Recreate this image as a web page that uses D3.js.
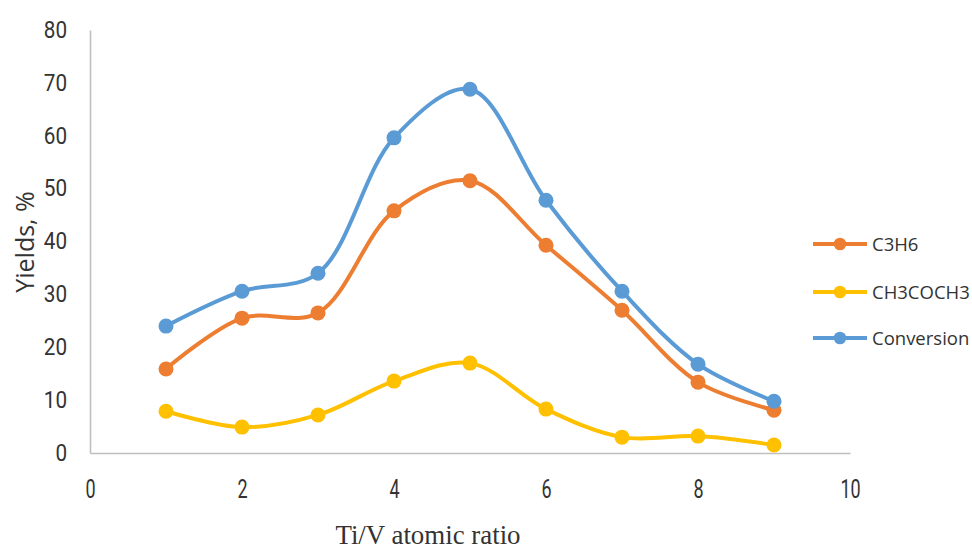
<!DOCTYPE html>
<html>
<head>
<meta charset="utf-8">
<script src="https://cdn.jsdelivr.net/npm/d3@7"></script>
<style>
  body { margin: 0; background: #fff; }
  svg { display: block; }
</style>
</head>
<body>
<svg id="chart" width="972" height="551"></svg>
<script>
// values
const ratios = [1, 2, 3, 4, 5, 6, 7, 8, 9];
const c3h6 = [15.9, 25.5, 26.5, 45.8, 51.5, 39.3, 27.0, 13.4, 8.1];
const ch3coch3 = [7.9, 4.9, 7.2, 13.6, 17.0, 8.3, 3.0, 3.2, 1.5];
const conversion = [24.0, 30.6, 34.0, 59.6, 68.8, 47.8, 30.6, 16.8, 9.8];
const xTicks = [0, 2, 4, 6, 8, 10];
const yTicks = [0, 10, 20, 30, 40, 50, 60, 70, 80];

const seriesNames = ["C3H6", "CH3COCH3", "Conversion"];
const seriesValues = [c3h6, ch3coch3, conversion];
const colors = ["#ED7D31", "#FFC000", "#5B9BD5"];

const svg = d3.select("#chart");

const x = d3.scaleLinear().domain([0, 10]).range([90, 850]);
const y = d3.scaleLinear().domain([0, 80]).range([453, 30]);

// axes
const xAxis = svg.append("g")
  .attr("transform", `translate(0,${y(0)})`)
  .call(d3.axisBottom(x).tickValues(xTicks).tickSize(0).tickPadding(27));

const yAxis = svg.append("g")
  .attr("transform", `translate(${x(0)},0)`)
  .call(d3.axisLeft(y).tickValues(yTicks).tickSize(0).tickPadding(23));

[xAxis, yAxis].forEach(a => {
  a.select(".domain").attr("stroke", "#BFBFBF").attr("stroke-width", 1.6);
});

xAxis.selectAll("text")
  .attr("font-family", "Roboto, sans-serif")
  .attr("font-size", 25)
  .attr("fill", "#333")
  .attr("transform", "scale(0.72,1)");

yAxis.selectAll("text")
  .attr("font-family", "Roboto, sans-serif")
  .attr("font-size", 23)
  .attr("fill", "#333")
  .attr("transform", "scale(0.9,1)");
// keep right edge of y labels in place after scaling
yAxis.selectAll(".tick text").attr("x", -23 / 0.9);

// smoothed lines (Excel style)
const line = d3.line()
  .x((d, i) => x(ratios[i]))
  .y(d => y(d))
  .curve(d3.curveCatmullRom.alpha(0.5));

seriesValues.forEach((vals, k) => {
  svg.append("path")
    .datum(vals)
    .attr("fill", "none")
    .attr("stroke", colors[k])
    .attr("stroke-width", 4)
    .attr("stroke-linejoin", "round")
    .attr("d", line);

  svg.append("g")
    .selectAll("circle")
    .data(vals)
    .join("circle")
    .attr("cx", (d, i) => x(ratios[i]))
    .attr("cy", d => y(d))
    .attr("r", 7.5)
    .attr("fill", colors[k]);
});

// legend
const legendY = [244, 292, 338];
const legend = svg.append("g");
seriesNames.forEach((name, k) => {
  legend.append("line")
    .attr("x1", 813).attr("x2", 867)
    .attr("y1", legendY[k]).attr("y2", legendY[k])
    .attr("stroke", colors[k])
    .attr("stroke-width", 4);
  legend.append("circle")
    .attr("cx", 840).attr("cy", legendY[k])
    .attr("r", 6.3)
    .attr("fill", colors[k]);
  legend.append("text")
    .attr("x", 872)
    .attr("y", legendY[k])
    .attr("dy", "0.36em")
    .attr("font-family", "'Open Sans', sans-serif")
    .attr("font-size", 18.5)
    .attr("fill", "#333")
    .text(name);
});

// axis titles
svg.append("text")
  .attr("transform", "translate(34,242) rotate(-90)")
  .attr("text-anchor", "middle")
  .attr("font-family", "'Open Sans', sans-serif")
  .attr("font-size", 25)
  .attr("fill", "#333")
  .text("Yields, %");

svg.append("text")
  .attr("x", 428)
  .attr("y", 544)
  .attr("text-anchor", "middle")
  .attr("font-family", "'Liberation Serif', serif")
  .attr("font-size", 28)
  .attr("fill", "#333")
  .attr("transform", "translate(428,0) scale(0.96,1) translate(-428,0)")
  .text("Ti/V atomic ratio");
</script>
</body>
</html>
